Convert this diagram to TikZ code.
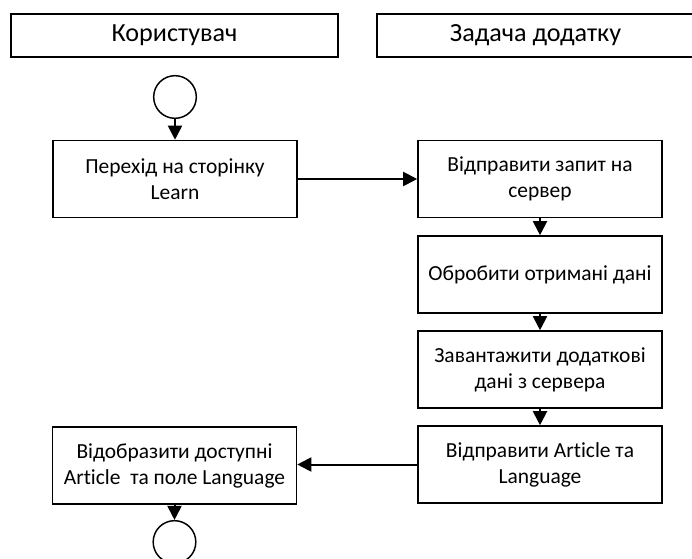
\documentclass[tikz,border=0pt]{standalone}
\usepackage{fontspec}
\setmainfont[Ligatures=NoCommon]{Carlito}
\usetikzlibrary{arrows.meta}
\begin{document}
\begin{tikzpicture}[x=0.75pt,y=-0.75pt,
  header/.style={draw, line width=1.2pt, inner sep=0pt, minimum height=32.25pt, font=\fontsize{19.6}{23}\selectfont},
  procbox/.style={draw, line width=1.2pt, inner sep=0pt, minimum width=183pt, minimum height=57.75pt, align=center, font=\fontsize{16.1}{19.5}\selectfont},
  endpt/.style={draw, circle, line width=1.1pt, inner sep=0pt, minimum size=32pt},
  flow/.style={line width=1.5pt, -{Triangle[length=10.5pt, width=10.5pt]}}
]
\clip (0,0) rectangle (692,559);
\fill[white] (0,0) rectangle (692,559);
\node[header, minimum width=245.25pt] (h1) at (174.5,35.5) {Користувач};
\node[header, minimum width=237.75pt] (h2) at (535.5,35.5) {Задача додатку};
\node[endpt] (start) at (175,97) {};
\node[procbox] (b1) at (175,179) {Перехід на сторінку\\Learn};
\node[procbox] (b2) at (540,179) {Відправити запит на\\сервер};
\node[procbox] (b3) at (540,274.5) {Обробити отримані дані};
\node[procbox] (b4) at (540,369.5) {Завантажити додаткові\\дані з сервера};
\node[procbox] (b5) at (540,464.5) {Відправити Article та\\Language};
\node[procbox] (b6) at (174.5,465.5) {Відобразити доступні\\Article\ \ та поле Language};
\node[endpt] (stop) at (174.5,542) {};
\draw[flow] (start) -- (b1);
\draw[flow] (b1) -- (b2);
\draw[flow] (b2) -- (b3);
\draw[flow] (b3) -- (b4);
\draw[flow] (b4) -- (b5);
\draw[flow] (b5.west) -- (b6.east |- b5.west);
\draw[flow] (b6) -- (stop);
\end{tikzpicture}
\end{document}
